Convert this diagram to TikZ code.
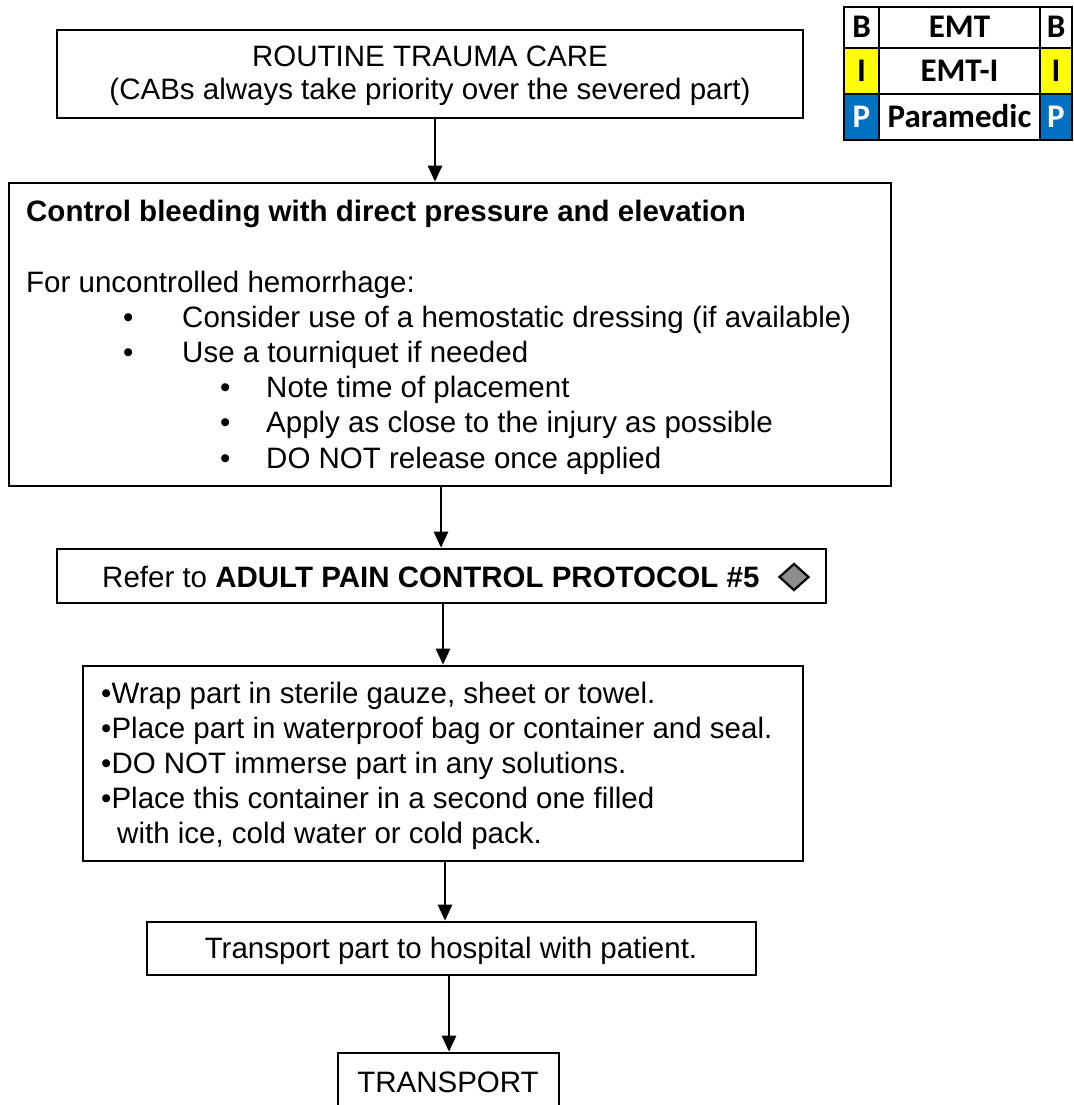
\documentclass[tikz,border=0pt]{standalone}
\usepackage{fontspec}
\setmainfont{Liberation Sans}
\newfontfamily\legendfont{Carlito}
\usetikzlibrary{arrows.meta,shapes.geometric}
\definecolor{legyellow}{HTML}{FFFF00}
\definecolor{legblue}{HTML}{0070C0}
\definecolor{diagray}{HTML}{8C8C8C}
\begin{document}
\begin{tikzpicture}[x=1pt,y=-1pt,
  box/.style={draw, line width=2.6pt, rectangle, inner sep=0pt},
  txt/.style={anchor=base west, inner sep=0pt, font=\fontsize{29.5}{35}\selectfont},
  ctxt/.style={anchor=base, inner sep=0pt, font=\fontsize{29.5}{35}\selectfont},
  arr/.style={line width=2.6pt, -{Triangle[length=16pt,width=14pt]}},
  cell/.style={draw, line width=2.6pt, rectangle, inner sep=0pt, text height=21pt, text depth=0pt,
    font=\legendfont\bfseries\fontsize{33}{38}\selectfont}
]
\useasboundingbox (0,0) rectangle (1073,1105);
\clip (0,0) rectangle (1073,1105);

% Box 1
\node[box, minimum width=746pt, minimum height=88pt] (b1) at (430,74) {};
\node[ctxt] (t1a) at (430,67) {ROUTINE TRAUMA CARE};
\node[ctxt] (t1b) at (430,100) {(CABs always take priority over the severed part)};

% Box 2
\node[box, minimum width=882pt, minimum height=303pt] (b2) at (450,334.5) {};
\node[txt, font=\bfseries\fontsize{29.5}{35}\selectfont] (t2a) at (26,221) {Control bleeding with direct pressure and elevation};
\node[txt] (t2b) at (26,292) {For uncontrolled hemorrhage:};
\node[txt] (t2c1) at (123,327) {•};
\node[txt] (t2c) at (182,327) {Consider use of a hemostatic dressing (if available)};
\node[txt] (t2d1) at (123,362) {•};
\node[txt] (t2d) at (182,362) {Use a tourniquet if needed};
\node[txt] (t2e1) at (220,397) {•};
\node[txt] (t2e) at (266,397) {Note time of placement};
\node[txt] (t2f1) at (220,432) {•};
\node[txt] (t2f) at (266,432) {Apply as close to the injury as possible};
\node[txt] (t2g1) at (220,468) {•};
\node[txt] (t2g) at (266,468) {DO NOT release once applied};

% Box 3
\node[box, minimum width=769pt, minimum height=54pt] (b3) at (441.5,576) {};
\node[txt] (t3) at (102,587) {Refer to \textbf{ADULT PAIN CONTROL PROTOCOL \#5}};
\node[diamond, draw, line width=2.2pt, fill=diagray, minimum width=30pt, minimum height=27pt, inner sep=0pt] (dia) at (794,577) {};

% Box 4
\node[box, minimum width=720pt, minimum height=195pt] (b4) at (443,763.5) {};
\node[txt] (t4a) at (101,703) {•Wrap part in sterile gauze, sheet or towel.};
\node[txt] (t4b) at (101,738) {•Place part in waterproof bag or container and seal.};
\node[txt] (t4c) at (101,773) {•DO NOT immerse part in any solutions.};
\node[txt] (t4d) at (101,808) {•Place this container in a second one filled};
\node[txt] (t4e) at (117,843) {with ice, cold water or cold pack.};

% Box 5
\node[box, minimum width=609pt, minimum height=53pt] (b5) at (451.5,948.5) {};
\node[ctxt] (t5) at (451,958.5) {Transport part to hospital with patient.};

% Box 6 (cut by the lower edge)
\node[box, minimum width=221pt, minimum height=80pt] (b6) at (448.5,1093) {};
\node[ctxt] (t6) at (448,1092) {TRANSPORT};

% Connectors
\draw[arr] ([xshift=5pt]b1.south) -- ([xshift=5pt]b1.south |- b2.north);
\draw[arr] ([xshift=-9pt]b2.south) -- ([xshift=-9pt]b2.south |- b3.north);
\draw[arr] ([xshift=1.5pt]b3.south) -- ([xshift=1.5pt]b3.south |- b4.north);
\draw[arr] ([xshift=2pt]b4.south) -- ([xshift=2pt]b4.south |- b5.north);
\draw[arr] ([xshift=-2.5pt]b5.south) -- ([xshift=-2.5pt]b5.south |- b6.north);

% Legend
\node[cell, minimum width=35pt, minimum height=41pt] (lb1) at (861.5,27.5) {B};
\node[cell, minimum width=161pt, minimum height=41pt] (lb2) at (959.5,27.5) {EMT};
\node[cell, minimum width=32pt, minimum height=41pt] (lb3) at (1056,27.5) {B};
\node[cell, fill=legyellow, minimum width=35pt, minimum height=46pt] (li1) at (861.5,71) {I};
\node[cell, minimum width=161pt, minimum height=46pt] (li2) at (959.5,71) {EMT-I};
\node[cell, fill=legyellow, minimum width=32pt, minimum height=46pt] (li3) at (1056,71) {I};
\node[cell, fill=legblue, text=white, minimum width=35pt, minimum height=46pt] (lp1) at (861.5,117) {P};
\node[cell, minimum width=161pt, minimum height=46pt] (lp2) at (959.5,117) {Paramedic};
\node[cell, fill=legblue, text=white, minimum width=32pt, minimum height=46pt] (lp3) at (1056,117) {P};
\end{tikzpicture}
\end{document}
